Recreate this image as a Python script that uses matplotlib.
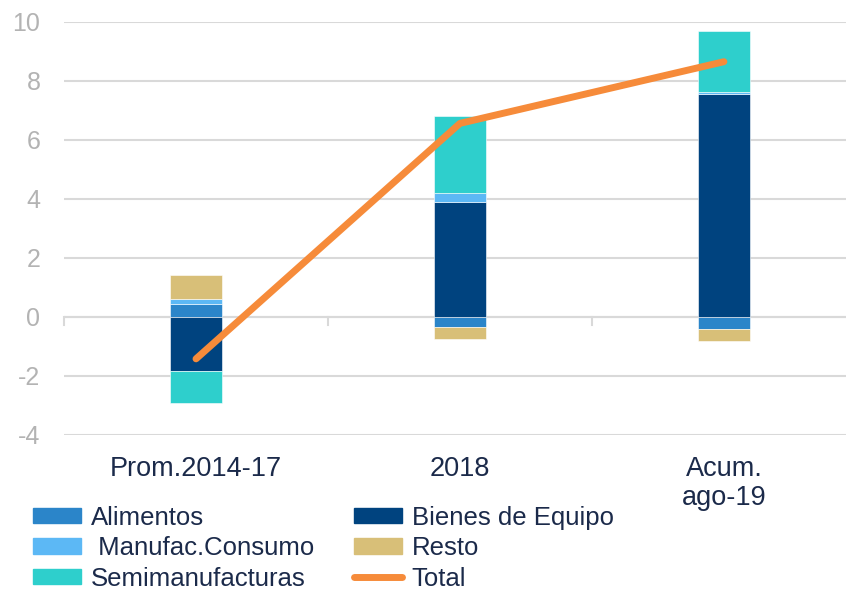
import matplotlib
matplotlib.use('Agg')
import matplotlib.pyplot as plt
import numpy as np
from matplotlib.patches import Patch
from matplotlib.lines import Line2D

plt.rcParams['font.family'] = ['Liberation Sans', 'DejaVu Sans']
plt.rcParams['axes.unicode_minus'] = False

# data
categories = ['Prom.2014-17', '2018', 'Acum.\nago-19']
alimentos = [0.45, -0.33, -0.41]
bienes = [-1.83, 3.90, 7.56]
manufac = [0.15, 0.29, 0.08]
resto = [0.82, -0.42, -0.39]
semi = [-1.07, 2.63, 2.04]
total = [-1.42, 6.56, 8.65]

series = [
    ('Alimentos', alimentos, '#2b85c9'),
    ('Bienes de Equipo', bienes, '#00437f'),
    (' Manufac.Consumo', manufac, '#5cb8f5'),
    ('Resto', resto, '#d8bf78'),
    ('Semimanufacturas', semi, '#2ecfcc'),
]
text_col = '#1b2a4a'
grid_col = '#d9d9d9'

fig = plt.figure(figsize=(8.46, 5.91), dpi=100)
ax = fig.add_axes([0.0757, 0.264, 0.936, 0.699])

x = np.arange(len(categories))
pos_base = np.zeros(len(categories))
neg_base = np.zeros(len(categories))
for name, vals, col in series:
    vals = np.array(vals)
    bottoms = np.where(vals >= 0, pos_base, neg_base)
    ax.bar(x, vals, 0.195, bottom=bottoms, color=col, edgecolor='white',
           linewidth=0.4, zorder=3)
    pos_base += np.where(vals >= 0, vals, 0)
    neg_base += np.where(vals < 0, vals, 0)

ax.plot(x, total, color='#f68b3a', linewidth=5, solid_capstyle='round',
        solid_joinstyle='round', zorder=4)

ax.set_xlim(-0.5, 2.5)
ax.set_ylim(-4, 10)
ax.set_yticks(np.arange(-4, 11, 2))
ax.yaxis.grid(True, color=grid_col, linewidth=1.5, zorder=0)
for s in ax.spines.values():
    s.set_visible(False)
ax.tick_params(axis='y', length=0, labelsize=18, labelcolor='#b3b3b3', pad=17)
ax.set_xticks(x)
ax.set_xticklabels(categories, fontsize=19.5, color=text_col, linespacing=1.15)
ax.tick_params(axis='x', length=0, pad=15)

# zero axis line with category separators
ax.axhline(0, color=grid_col, linewidth=1.5, zorder=2)
for b in [-0.5, 0.5, 1.5, 2.5]:
    ax.plot([b, b], [0, -0.27], color=grid_col, linewidth=1.5, zorder=2,
            clip_on=False)

handles = [Patch(color=c) for _, _, c in series]
handles.append(Line2D([0], [0], color='#f68b3a', linewidth=5,
                      solid_capstyle='round'))
labels = [n for n, _, _ in series] + ['Total']
# matplotlib fills legend columns first, reorder to read row by row
order = [0, 2, 4, 1, 3, 5]
fig.legend([handles[i] for i in order], [labels[i] for i in order],
           ncol=2, loc='upper left', bbox_to_anchor=(0.024, 0.166),
           frameon=False, fontsize=18.5, labelcolor=text_col,
           handlelength=1.85, handleheight=0.55, handletextpad=0.4,
           columnspacing=1.55, labelspacing=0.25, borderpad=0)

fig.savefig('out.png', dpi=100)
